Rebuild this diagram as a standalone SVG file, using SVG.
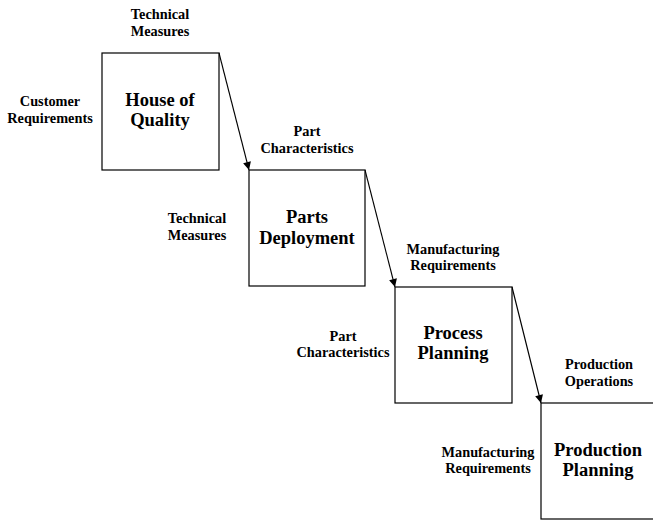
<svg xmlns="http://www.w3.org/2000/svg" width="653" height="521" viewBox="0 0 653 521">
<style>
.box{fill:#fff;stroke:#000;stroke-width:1.2}
.t{font-family:"Liberation Serif","Times New Roman",serif;font-weight:bold;text-anchor:middle;fill:#000}
.big{font-size:18.5px}
.sm{font-size:14.3px}
.c{stroke:#000;stroke-width:1.1;fill:none;marker-end:url(#ah)}
</style>
<defs>
<marker id="ah" viewBox="0 0 10 10" refX="10" refY="5" markerWidth="10" markerHeight="8" markerUnits="userSpaceOnUse" orient="auto">
<path d="M0,0 L10,5 L0,10 z" fill="#000"/>
</marker>
</defs>
<rect width="653" height="521" fill="#fff"/>
<g id="connectors">
<line class="c" x1="219" y1="53" x2="249" y2="170"/>
<line class="c" x1="365" y1="170" x2="395" y2="287"/>
<line class="c" x1="512" y1="287" x2="541" y2="403"/>
</g>
<g id="house">
<rect class="box" x="102" y="53" width="117" height="117"/>
<text class="t big" x="160" y="106">House of</text>
<text class="t big" x="160" y="126">Quality</text>
<text class="t sm" x="160" y="19">Technical</text>
<text class="t sm" x="160" y="36">Measures</text>
<text class="t sm" x="50" y="106">Customer</text>
<text class="t sm" x="50" y="123">Requirements</text>
</g>
<g id="parts">
<rect class="box" x="249" y="170" width="116" height="116"/>
<text class="t big" x="307" y="223">Parts</text>
<text class="t big" x="307" y="244">Deployment</text>
<text class="t sm" x="307" y="136">Part</text>
<text class="t sm" x="307" y="153">Characteristics</text>
<text class="t sm" x="197" y="223">Technical</text>
<text class="t sm" x="197" y="240">Measures</text>
</g>
<g id="process">
<rect class="box" x="395" y="287" width="117" height="116"/>
<text class="t big" x="453" y="339">Process</text>
<text class="t big" x="453" y="359">Planning</text>
<text class="t sm" x="453" y="254">Manufacturing</text>
<text class="t sm" x="453" y="270">Requirements</text>
<text class="t sm" x="343" y="341">Part</text>
<text class="t sm" x="343" y="357">Characteristics</text>
</g>
<g id="production">
<rect class="box" x="541" y="403" width="130" height="116"/>
<text class="t big" x="598" y="456">Production</text>
<text class="t big" x="598" y="476">Planning</text>
<text class="t sm" x="599" y="369">Production</text>
<text class="t sm" x="599" y="386">Operations</text>
<text class="t sm" x="488" y="457">Manufacturing</text>
<text class="t sm" x="488" y="473">Requirements</text>
</g>
</svg>
